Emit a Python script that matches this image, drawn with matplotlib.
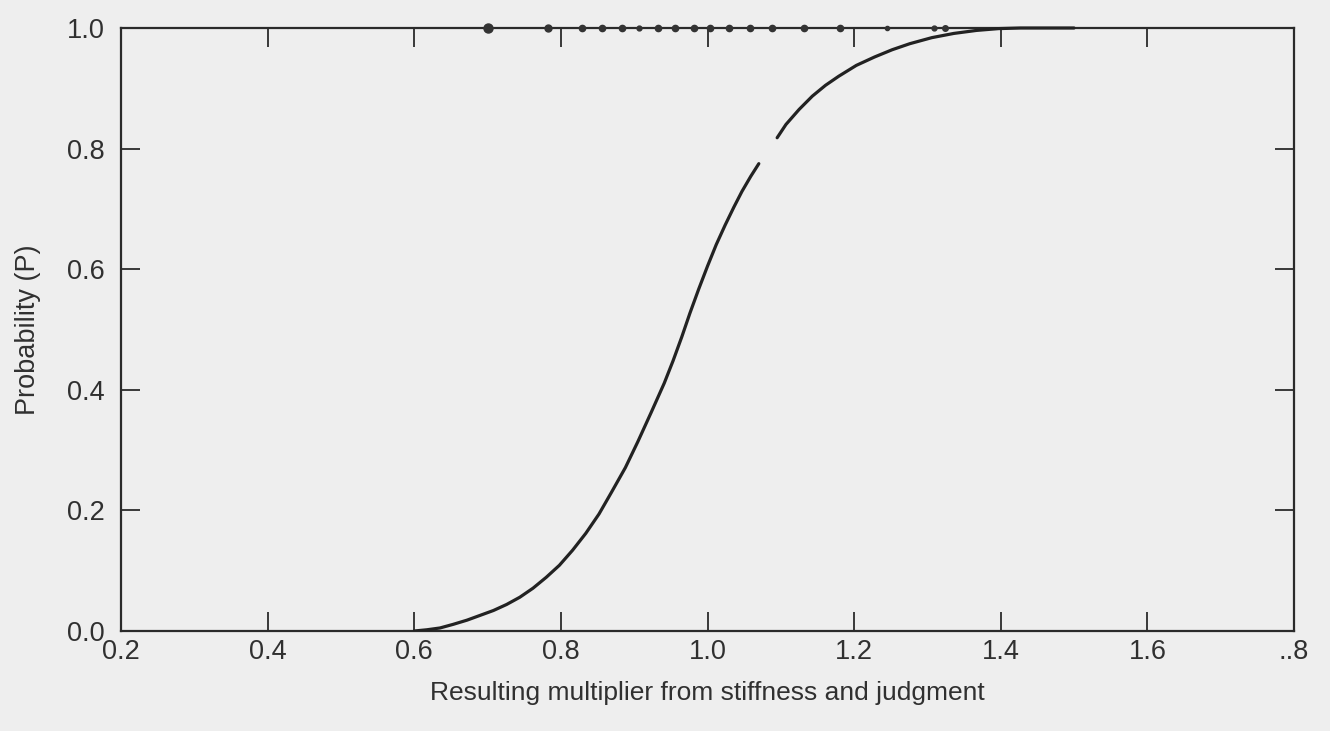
import matplotlib
matplotlib.use("Agg")
import matplotlib.pyplot as plt

# ---- data ----
# lower segment of the cumulative curve (before the small break)
curve_lo_x = [0.600, 0.617, 0.635, 0.653, 0.672, 0.690, 0.708, 0.726, 0.744, 0.762,
              0.780, 0.798, 0.816, 0.834, 0.852, 0.869, 0.888, 0.905, 0.923, 0.941,
              0.953, 0.965, 0.976, 0.988, 1.000, 1.012, 1.024, 1.036, 1.047, 1.059,
              1.070]
curve_lo_p = [0.000, 0.002, 0.005, 0.011, 0.018, 0.026, 0.034, 0.044, 0.056, 0.071,
              0.089, 0.109, 0.134, 0.162, 0.194, 0.230, 0.271, 0.314, 0.362, 0.411,
              0.448, 0.488, 0.527, 0.567, 0.605, 0.641, 0.673, 0.703, 0.729, 0.754,
              0.775]
# upper segment of the cumulative curve (after the break)
curve_hi_x = [1.095, 1.107, 1.125, 1.143, 1.161, 1.179, 1.203, 1.228, 1.252, 1.276,
              1.306, 1.336, 1.367, 1.397, 1.427, 1.500]
curve_hi_p = [0.818, 0.840, 0.865, 0.887, 0.905, 0.920, 0.938, 0.952, 0.964, 0.974,
              0.984, 0.991, 0.996, 0.999, 1.000, 1.000]
# sample points plotted along P = 1.0
dots_x = [0.700, 0.782, 0.829, 0.856, 0.884, 0.906, 0.932, 0.956, 0.981, 1.003,
          1.030, 1.058, 1.088, 1.131, 1.181, 1.245, 1.309, 1.324]
dots_p = [1.0] * len(dots_x)
dots_size = [6.5, 5, 4.5, 4.5, 4.5, 3.5, 4.5, 4.5, 4.5, 4.5,
             4.5, 4.5, 4.5, 4.5, 4.5, 3, 3.5, 4]

x_ticks = [0.2, 0.4, 0.6, 0.8, 1.0, 1.2, 1.4, 1.6, 1.8]
x_ticklabels = ["0.2", "0.4", "0.6", "0.8", "1.0", "1.2", "1.4", "1.6", "..8"]
y_ticks = [0.0, 0.2, 0.4, 0.6, 0.8, 1.0]
y_ticklabels = ["0.0", "0.2", "0.4", "0.6", "0.8", "1.0"]

x_label = "Resulting multiplier from stiffness and judgment"
y_label = "Probability (P)"

# ---- drawing ----
plt.rcParams["font.family"] = ["Liberation Sans", "DejaVu Sans"]
bg = "#eeeeee"
ink = "#2a2a2a"
txt = "#303030"

fig = plt.figure(figsize=(13.3, 7.31), dpi=100, facecolor=bg)
ax = fig.add_axes([121 / 1330, 100 / 731, 1173 / 1330, 603 / 731])
ax.set_facecolor(bg)

ax.plot(curve_lo_x, curve_lo_p, color="#222222", lw=2.3, solid_capstyle="round",
        solid_joinstyle="round", zorder=3)
ax.plot(curve_hi_x, curve_hi_p, color="#222222", lw=2.3, solid_capstyle="round",
        solid_joinstyle="round", zorder=3, clip_on=False)
for xv, pv, sz in zip(dots_x, dots_p, dots_size):
    ax.plot([xv], [pv], linestyle="none", marker="o", ms=sz, color="#333333",
            clip_on=False, zorder=4)

ax.set_xlim(0.2, 1.8)
ax.set_ylim(0.0, 1.0)
ax.set_xticks(x_ticks)
ax.set_xticklabels(x_ticklabels)
ax.set_yticks(y_ticks)
ax.set_yticklabels(y_ticklabels)

ax.tick_params(axis="both", direction="in", length=14, width=1.3, color=ink,
               top=True, right=True, labelsize=19.5, labelcolor=txt)
ax.tick_params(axis="x", pad=6)
ax.tick_params(axis="y", pad=12)

for s in ax.spines.values():
    s.set_linewidth(1.6)
    s.set_color(ink)

ax.set_xlabel(x_label, fontsize=19, color=txt, labelpad=11)
ax.set_ylabel(y_label, fontsize=19.5, color=txt, labelpad=18)

fig.savefig("out.png", dpi=100, facecolor=bg)
